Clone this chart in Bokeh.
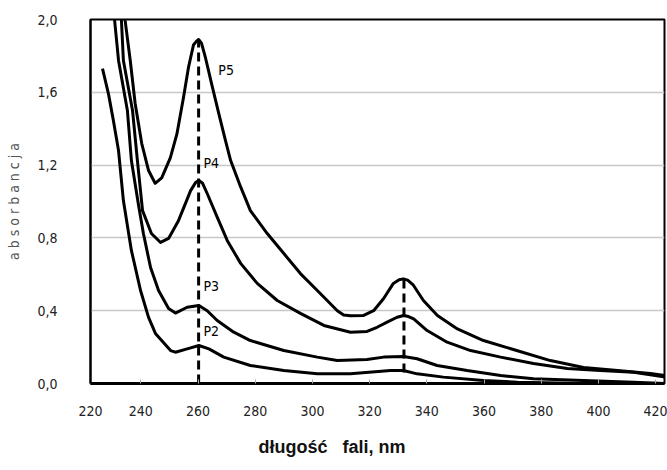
from bokeh.plotting import figure
from bokeh.models import FixedTicker, Title, Range1d
from bokeh.embed import file_html
from bokeh.resources import INLINE
from bokeh.core.properties import value

# ---------------- data (wavelength nm, absorbance) ----------------
p5_nm = [233.0, 234.5, 236.3, 238.0, 240.3, 242.7, 245.0, 247.3, 250.3, 252.6, 254.9, 256.7,
         258.4, 259.4, 260.2, 261.2, 262.6, 265.0, 267.3, 269.6, 271.4, 274.9, 278.3, 284.2,
         290.0, 295.8, 301.7, 308.7, 310.9, 313.3, 317.9, 321.4, 324.9, 328.3, 330.3, 331.8,
         333.3, 335.3, 338.8, 343.7, 350.7, 359.8, 371.7, 383.2, 394.8, 406.7, 418.2, 423.4]
p5_abs = [2.25, 1.995, 1.775, 1.54, 1.32, 1.17, 1.10, 1.13, 1.24, 1.37, 1.57, 1.74,
          1.86, 1.88, 1.89, 1.87, 1.79, 1.63, 1.48, 1.335, 1.225, 1.08, 0.95, 0.824,
          0.714, 0.604, 0.511, 0.40, 0.376, 0.372, 0.374, 0.40, 0.467, 0.55, 0.57, 0.575,
          0.568, 0.54, 0.456, 0.374, 0.30, 0.236, 0.18, 0.126, 0.088, 0.071, 0.055, 0.044]

p4_nm = [232.5, 233.2, 233.9, 237.1, 238.8, 240.6, 243.7, 246.9, 249.7, 253.2, 256.0, 257.4,
         259.2, 260.3, 261.6, 263.2, 266.7, 270.2, 274.9, 280.7, 287.7, 295.8, 304.0, 313.3,
         319.1, 322.6, 326.1, 329.6, 331.9, 333.6, 335.4, 340.1, 347.1, 355.3, 365.8, 377.3,
         389.1, 400.7, 412.3, 423.4]
p4_abs = [2.16, 2.0, 1.775, 1.50, 1.225, 0.95, 0.824, 0.775, 0.797, 0.896, 1.005, 1.06,
          1.105, 1.115, 1.10, 1.044, 0.914, 0.786, 0.66, 0.55, 0.456, 0.385, 0.319, 0.282,
          0.286, 0.309, 0.337, 0.364, 0.374, 0.368, 0.355, 0.291, 0.227, 0.181, 0.145, 0.11,
          0.082, 0.071, 0.062, 0.035]

p3_nm = [230.0, 230.8, 232.2, 235.3, 236.7, 239.2, 240.9, 243.4, 246.2, 249.7, 252.1, 256.2,
         260.3, 263.2, 266.7, 272.5, 278.3, 290.0, 301.7, 308.7, 319.1, 324.9, 331.9, 336.6,
         343.6, 354.1, 365.8, 377.3, 394.8, 412.3, 423.4]
p3_abs = [2.16, 2.0, 1.775, 1.50, 1.225, 0.98, 0.824, 0.637, 0.511, 0.412, 0.387, 0.419,
          0.429, 0.40, 0.346, 0.282, 0.236, 0.181, 0.145, 0.126, 0.132, 0.145, 0.148, 0.136,
          0.099, 0.071, 0.044, 0.026, 0.016, 0.007, 0.0]

p2_nm = [226.6, 228.7, 230.4, 232.2, 233.9, 236.7, 239.9, 242.7, 245.1, 250.4, 252.1, 256.2,
         260.3, 263.8, 269.0, 278.3, 290.0, 301.7, 313.3, 327.3, 331.8, 336.6, 345.8, 359.8,
         371.7, 394.8, 423.4]
p2_abs = [1.73, 1.59, 1.445, 1.28, 1.005, 0.731, 0.511, 0.363, 0.275, 0.181, 0.172, 0.19,
          0.209, 0.19, 0.145, 0.099, 0.071, 0.053, 0.053, 0.071, 0.071, 0.053, 0.035, 0.016,
          0.007, 0.0, 0.0]

series = [("P5", p5_nm, p5_abs), ("P4", p4_nm, p4_abs), ("P3", p3_nm, p3_abs), ("P2", p2_nm, p2_abs)]

# peak markers (dashed verticals)
peak_nm = [260.2, 332.0]
peak_top = [1.89, 0.575]
peak_bottom = [0.0, 0.06]

# curve labels
label_text = ["P5", "P4", "P3", "P2"]
label_nm = [267.1, 261.9, 261.9, 261.9]
label_abs = [1.72, 1.214, 0.533, 0.286]

x_axis_start = 222.4
x_ticks = [x_axis_start, 240, 260, 280, 300, 320, 340, 360, 380, 400, 420]
x_tick_labels = ["220", "240", "260", "280", "300", "320", "340", "360", "380", "400", "420"]
y_ticks = [0.0, 0.4, 0.8, 1.2, 1.6, 2.0]
y_tick_labels = ["0,0", "0,4", "0,8", "1,2", "1,6", "2,0"]

x_title = "długość\u00a0\u00a0\u00a0fali, nm"
y_title = "a b s o r b a n c j a"

NARROW = "DejaVu Sans Condensed"

p = figure(frame_width=574, frame_height=364,
           x_range=Range1d(x_axis_start, 423.1), y_range=Range1d(0, 2.0),
           output_backend="svg", toolbar_location=None,
           min_border_left=90, min_border_right=3, min_border_top=19, min_border_bottom=0,
           background_fill_color="white", border_fill_color="white")

p.outline_line_color = "black"
p.outline_line_width = 2

p.xgrid.visible = False
p.ygrid.grid_line_color = "#c8c8c8"
p.ygrid.grid_line_width = 1.5

p.xaxis.ticker = FixedTicker(ticks=x_ticks)
p.xaxis.major_label_overrides = {t: l for t, l in zip(x_ticks, x_tick_labels)}
p.yaxis.ticker = FixedTicker(ticks=y_ticks)
p.yaxis.major_label_overrides = {t: l for t, l in zip(y_ticks, y_tick_labels)}

for ax in (p.xaxis, p.yaxis):
    ax.major_label_text_font = NARROW
    ax.major_label_text_font_size = "14px"
    ax.major_label_text_color = "#222222"
    ax.minor_tick_line_color = None
    ax.minor_tick_out = 0
    ax.minor_tick_in = 0

p.xaxis.axis_line_color = "black"
p.xaxis.axis_line_width = 3
p.xaxis.major_tick_in = 4
p.xaxis.major_tick_out = 0
p.xaxis.major_tick_line_color = "#aaaaaa"
p.xaxis.major_label_standoff = 22

p.yaxis.axis_line_color = "black"
p.yaxis.axis_line_width = 2
p.yaxis.major_tick_line_color = None
p.yaxis.major_tick_out = 0
p.yaxis.major_tick_in = 0
p.yaxis.major_label_standoff = 33
p.yaxis.axis_label = y_title
p.yaxis.axis_label_text_font = NARROW
p.yaxis.axis_label_text_font_size = "14px"
p.yaxis.axis_label_text_font_style = "normal"
p.yaxis.axis_label_text_color = "#555555"
p.yaxis.axis_label_standoff = 12

# x-axis title as a left-aligned title below, offset to match position
p.add_layout(Title(text=x_title, align="left", offset=168, standoff=32,
                   text_font="Liberation Sans", text_font_size="18px",
                   text_font_style="bold", text_color="#111111"), "below")

for name, xs, ys in series:
    p.line(xs, ys, line_color="black", line_width=3, line_join="round")

p.segment(x0=peak_nm, y0=peak_bottom, x1=peak_nm, y1=peak_top,
          line_color="black", line_width=3, line_dash="9 5")

p.text(x=label_nm, y=label_abs, text=label_text, text_font=value(NARROW),
       text_font_size="14px", text_baseline="middle", text_align="left", text_color="black")

open("out.html", "w").write(file_html(p, INLINE))
